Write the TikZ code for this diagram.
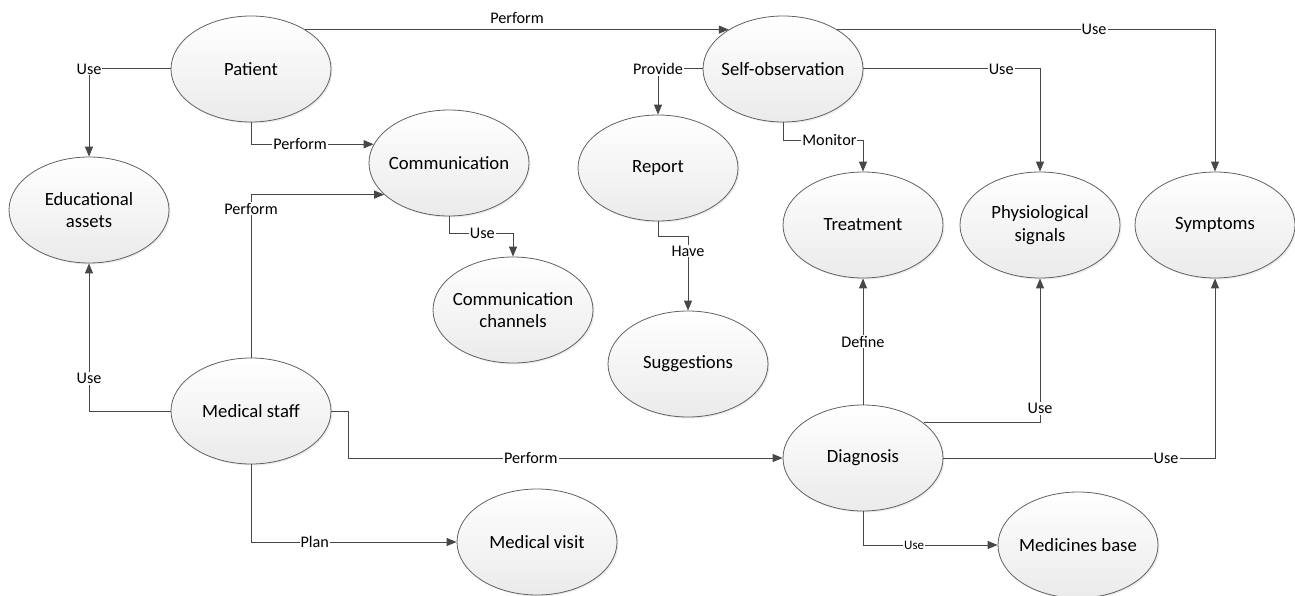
\documentclass[tikz,border=0pt]{standalone}
\usepackage{fontspec}
\setmainfont{Carlito}
\usetikzlibrary{arrows.meta,shapes.geometric,shadows}

\begin{document}
\begin{tikzpicture}[x=1pt,y=-1pt,
  concept/.style={ellipse, draw=black!62, line width=0.8pt,
    top color=white, bottom color=black!8,
    drop shadow={shadow xshift=1.5pt, shadow yshift=-1.5pt, opacity=0.15},
    minimum width=160pt, minimum height=106pt,
    inner xsep=-8pt, inner ysep=0pt, align=center,
    font=\fontsize{18.7}{22.5}\selectfont},
  rel/.style={draw=black!72, line width=1pt, -{Triangle[length=10pt,width=8pt]}},
  lbl/.style={fill=white, inner sep=1pt, font=\fontsize{16.2}{19}\selectfont}]
\useasboundingbox (0,0) rectangle (1295,596);
% the concepts
\node[concept] (patient)  at (251,69)   {Patient};
\node[concept] (edu)      at (89,210)   {Educational\\assets};
\node[concept] (comm)     at (449,163)  {Communication};
\node[concept] (channels) at (513,310)  {Communication\\channels};
\node[concept] (report)   at (658,168)  {Report};
\node[concept] (sugg)     at (688,364)  {Suggestions};
\node[concept] (selfobs)  at (783,69)   {Self-observation};
\node[concept] (treat)    at (863,225)  {Treatment};
\node[concept] (phys)     at (1040,225) {Physiological\\signals};
\node[concept] (symp)     at (1215,225) {Symptoms};
\node[concept] (medstaff) at (251,411)  {Medical staff};
\node[concept] (diag)     at (863,458)  {Diagnosis};
\node[concept] (visit)    at (537,542)  {Medical visit};
\node[concept] (medbase)  at (1078,545) {Medicines base};
% patient relations
\draw[rel] (patient.west) -| node[lbl,pos=0.5] {Use} (edu.north);
\draw[rel] (patient.36) -- node[lbl,above=4pt,fill=none] {Perform} (selfobs.144);
\draw[rel] (patient.south) |- node[lbl,pos=0.7] {Perform} (comm.166.5);
\draw[rel] (comm.south) -- ++(0,17) -| node[lbl,pos=0.26] {Use} (channels.north);
% self-observation relations
\draw[rel] (selfobs.west) -| node[lbl,pos=0.5] {Provide} (report.north);
\draw[rel] (report.south) -- ++(0,15) -| node[lbl,pos=0.6] {Have} (sugg.north);
\draw[rel] (selfobs.south) -- ++(0,18) -| node[lbl,pos=0.29] {Monitor} (treat.north);
\draw[rel] (selfobs.east) -| node[lbl,pos=0.39] {Use} (phys.north);
\draw[rel] (selfobs.36) -| node[lbl,pos=0.34] {Use} (symp.north);
% medical staff relations
\draw[rel] (medstaff.north) |- node[lbl,pos=0.457] {Perform} (comm.206.6);
\draw[rel] (medstaff.west) -| node[lbl,pos=0.61] {Use} (edu.south);
\draw[rel] (medstaff.east) -- ++(17,0) |- node[lbl,pos=0.71] {Perform} (diag.west);
\draw[rel] (medstaff.south) |- node[lbl,pos=0.655] {Plan} (visit.west);
% diagnosis relations
\draw[rel] (diag.north) -- node[lbl] {Define} (treat.south);
\draw[rel] (diag.30) -| node[lbl,pos=0.55] {Use} (phys.south);
\draw[rel] (diag.east) -| node[lbl,pos=0.41] {Use} (symp.south);
\draw[rel] (diag.south) |- node[lbl,pos=0.69,font=\fontsize{13}{15}\selectfont] {Use} (medbase.west);
\end{tikzpicture}
\end{document}
